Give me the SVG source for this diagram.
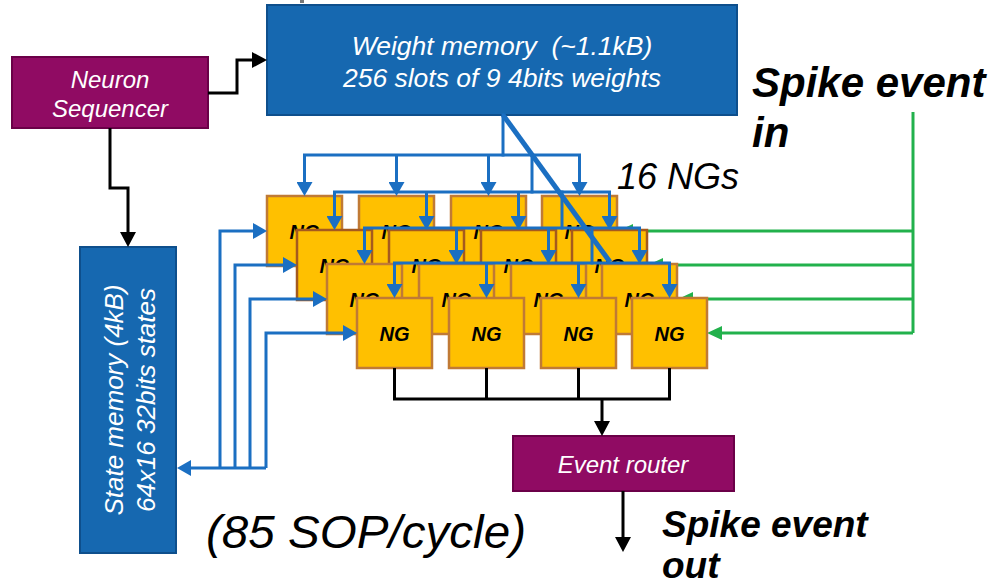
<svg xmlns="http://www.w3.org/2000/svg" width="992" height="586" viewBox="0 0 992 586">
  <style>
    .bluebox { fill: #1668B0; stroke: #0E4F8C; stroke-width: 2; }
    .purplebox { fill: #900B63; stroke: #6B0048; stroke-width: 2; }
    .ng rect { fill: #FFC000; stroke: #C07A35; stroke-width: 2.5; }
    .ng.l1 rect { stroke: #A55A1E; }
    .ng text { font-family: "Liberation Sans", Arial, sans-serif; font-size: 20px; font-weight: bold; font-style: italic; fill: #000; text-anchor: middle; }
    .wt { font-family: "Liberation Sans", Arial, sans-serif; font-style: italic; fill: #fff; text-anchor: middle; }
    .lbl { font-family: "Liberation Sans", Arial, sans-serif; font-style: italic; fill: #000; }
    .blue { fill: none; stroke: #1B6FC2; stroke-width: 3; }
    .bus { stroke-linecap: square; }
    .green { fill: none; stroke: #22B14C; stroke-width: 3; }
    .black { fill: none; stroke: #000; stroke-width: 3; }
  </style>
  <defs>
    <marker id="ah-blue" markerUnits="userSpaceOnUse" markerWidth="14" markerHeight="16" refX="10" refY="8" orient="auto">
      <path d="M0,0 L14,8 L0,16 z" fill="#1B6FC2"/>
    </marker>
    <marker id="ah-green" markerUnits="userSpaceOnUse" markerWidth="15" markerHeight="14" refX="11" refY="7" orient="auto">
      <path d="M0,0 L15,7 L0,14 z" fill="#22B14C"/>
    </marker>
    <marker id="ah-black" markerUnits="userSpaceOnUse" markerWidth="15" markerHeight="16" refX="11" refY="8" orient="auto">
      <path d="M0,0 L15,8 L0,16 z" fill="#000"/>
    </marker>
  </defs>

  <rect x="0" y="0" width="992" height="586" fill="#fff"/>
  <rect x="300" y="0" width="4" height="3" fill="#777"/>

  <!-- spike inputs, routed behind the neuron-group stack -->
  <g id="connectors-spike-in">
    <path class="green" d="M913,112 V333"/>
    <path class="green" d="M913,231 H622" marker-end="url(#ah-green)"/>
    <path class="green" d="M913,265 H652" marker-end="url(#ah-green)"/>
    <path class="green" d="M913,299 H682" marker-end="url(#ah-green)"/>
    <path class="green" d="M913,333 H711" marker-end="url(#ah-green)"/>
  </g>

  <!-- memories and control blocks -->
  <g id="neuron-sequencer">
    <rect class="purplebox" x="12" y="57" width="196" height="71"/>
    <text class="wt" x="110" y="88" font-size="24">Neuron</text>
    <text class="wt" x="110" y="117" font-size="24">Sequencer</text>
  </g>
  <g id="weight-memory">
    <rect class="bluebox" x="267" y="5" width="470" height="110"/>
    <text class="wt" x="502" y="55" font-size="26.5" style="white-space:pre">Weight memory  (~1.1kB)</text>
    <text class="wt" x="502" y="87" font-size="26.5">256 slots of 9 4bits weights</text>
  </g>
  <g id="state-memory">
    <rect class="bluebox" x="80" y="247" width="96" height="306"/>
    <g transform="translate(123,400) rotate(-90)">
      <text class="wt" x="0" y="0" font-size="26">State memory (4kB)</text>
      <text class="wt" x="0" y="32" font-size="26">64x16 32bits states</text>
    </g>
  </g>
  <g id="event-router">
    <rect class="purplebox" x="513" y="436" width="221" height="55"/>
    <text class="wt" x="623" y="473" font-size="24">Event router</text>
  </g>

  <!-- neuron groups: 4 layers of 4, back to front -->
  <g id="ng-layer-0">
    <g id="ng-0-0" class="ng"><rect x="267" y="196" width="75" height="70"/><text x="304.5" y="239">NG</text></g>
    <g id="ng-0-1" class="ng"><rect x="359" y="196" width="75" height="70"/><text x="396.5" y="239">NG</text></g>
    <g id="ng-0-2" class="ng"><rect x="451" y="196" width="75" height="70"/><text x="488.5" y="239">NG</text></g>
    <g id="ng-0-3" class="ng"><rect x="542" y="196" width="75" height="70"/><text x="579.5" y="239">NG</text></g>
  </g>
  <g id="ng-layer-1">
    <g id="ng-1-0" class="ng l1"><rect x="297" y="230" width="75" height="70"/><text x="334.5" y="273">NG</text></g>
    <g id="ng-1-1" class="ng l1"><rect x="389" y="230" width="75" height="70"/><text x="426.5" y="273">NG</text></g>
    <g id="ng-1-2" class="ng l1"><rect x="481" y="230" width="75" height="70"/><text x="518.5" y="273">NG</text></g>
    <g id="ng-1-3" class="ng l1"><rect x="572" y="230" width="75" height="70"/><text x="609.5" y="273">NG</text></g>
  </g>
  <g id="ng-layer-2">
    <g id="ng-2-0" class="ng"><rect x="327" y="264" width="75" height="70"/><text x="364.5" y="307">NG</text></g>
    <g id="ng-2-1" class="ng"><rect x="419" y="264" width="75" height="70"/><text x="456.5" y="307">NG</text></g>
    <g id="ng-2-2" class="ng"><rect x="511" y="264" width="75" height="70"/><text x="548.5" y="307">NG</text></g>
    <g id="ng-2-3" class="ng"><rect x="602" y="264" width="75" height="70"/><text x="639.5" y="307">NG</text></g>
  </g>
  <g id="ng-layer-3">
    <g id="ng-3-0" class="ng"><rect x="357" y="298" width="75" height="70"/><text x="394.5" y="341">NG</text></g>
    <g id="ng-3-1" class="ng"><rect x="449" y="298" width="75" height="70"/><text x="486.5" y="341">NG</text></g>
    <g id="ng-3-2" class="ng"><rect x="541" y="298" width="75" height="70"/><text x="578.5" y="341">NG</text></g>
    <g id="ng-3-3" class="ng"><rect x="632" y="298" width="75" height="70"/><text x="669.5" y="341">NG</text></g>
  </g>

  <g id="connectors">
    <!-- sequencer control -->
    <path class="black" d="M208,93 H237 V60 H263" marker-end="url(#ah-black)"/>
    <path class="black" d="M110,128 V188 H128 V243" marker-end="url(#ah-black)"/>

    <!-- weight distribution: staircase of buses, one per layer -->
    <path class="blue bus" d="M503,115 V155"/>
    <path class="blue bus" d="M304.5,155 H579.5"/>
    <path class="blue" d="M304.5,155 V192" marker-end="url(#ah-blue)"/>
    <path class="blue" d="M396.5,155 V192" marker-end="url(#ah-blue)"/>
    <path class="blue" d="M488.5,155 V192" marker-end="url(#ah-blue)"/>
    <path class="blue" d="M579.5,155 V192" marker-end="url(#ah-blue)"/>

    <path class="blue bus" d="M532,155 V192"/>
    <path class="blue bus" d="M334.5,192 H609.5"/>
    <path class="blue" d="M334.5,192 V226" marker-end="url(#ah-blue)"/>
    <path class="blue" d="M426.5,192 V226" marker-end="url(#ah-blue)"/>
    <path class="blue" d="M518.5,192 V226" marker-end="url(#ah-blue)"/>
    <path class="blue" d="M609.5,192 V226" marker-end="url(#ah-blue)"/>

    <path class="blue bus" d="M562,192 V228"/>
    <path class="blue bus" d="M364.5,228 H639.5"/>
    <path class="blue" d="M364.5,228 V260" marker-end="url(#ah-blue)"/>
    <path class="blue" d="M456.5,228 V260" marker-end="url(#ah-blue)"/>
    <path class="blue" d="M548.5,228 V260" marker-end="url(#ah-blue)"/>
    <path class="blue" d="M639.5,228 V260" marker-end="url(#ah-blue)"/>

    <path class="blue bus" d="M592,228 V263"/>
    <path class="blue bus" d="M394.5,263 H669.5"/>
    <path class="blue" d="M394.5,263 V294" marker-end="url(#ah-blue)"/>
    <path class="blue" d="M486.5,263 V294" marker-end="url(#ah-blue)"/>
    <path class="blue" d="M578.5,263 V294" marker-end="url(#ah-blue)"/>
    <path class="blue" d="M669.5,263 V294" marker-end="url(#ah-blue)"/>

    <path fill="none" stroke="#1B6FC2" stroke-width="5" d="M503,115 L610,262"/>

    <!-- state read/write between state memory and each layer -->
    <path class="blue" d="M220,468 V231 H263" marker-end="url(#ah-blue)"/>
    <path class="blue" d="M235,468 V265 H293" marker-end="url(#ah-blue)"/>
    <path class="blue" d="M250,468 V299 H323" marker-end="url(#ah-blue)"/>
    <path class="blue" d="M266,468 V333 H353" marker-end="url(#ah-blue)"/>
    <path class="blue" d="M266,468 H181" marker-end="url(#ah-blue)"/>

    <!-- spike outputs to the router -->
    <path class="black" d="M394.5,368 V399"/>
    <path class="black" d="M486.5,368 V399"/>
    <path class="black" d="M578.5,368 V399"/>
    <path class="black" d="M669.5,368 V399"/>
    <path class="black bus" d="M394.5,399 H669.5"/>
    <path class="black" d="M602,399 V432" marker-end="url(#ah-black)"/>
    <path class="black" d="M623,491 V548" marker-end="url(#ah-black)"/>
  </g>

  <!-- free labels -->
  <text class="lbl" x="617" y="189" font-size="36">16 NGs</text>
  <text class="lbl" x="752" y="97" font-size="42" font-weight="bold">Spike event</text>
  <text class="lbl" x="752" y="147" font-size="42" font-weight="bold">in</text>
  <text class="lbl" x="206" y="548" font-size="46" textLength="320" lengthAdjust="spacingAndGlyphs">(85 SOP/cycle)</text>
  <text class="lbl" x="662" y="537" font-size="37" font-weight="bold">Spike event</text>
  <text class="lbl" x="662" y="578" font-size="37" font-weight="bold">out</text>
</svg>
